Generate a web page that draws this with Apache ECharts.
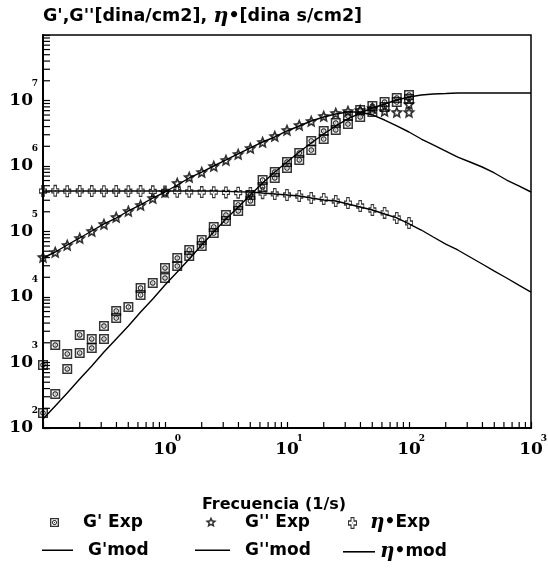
<!DOCTYPE html>
<html><head><meta charset="utf-8">
<script src="https://cdn.jsdelivr.net/npm/echarts@6/dist/echarts.min.js"></script>
<style>html,body{margin:0;padding:0;background:#fff}#c{width:548px;height:574px}</style>
</head><body><div id="c"></div>
<script>
// ---------- data ----------
const freqExp = [0.1, 0.126, 0.158, 0.2, 0.251, 0.316, 0.398, 0.501, 0.631, 0.794, 1, 1.26, 1.58, 2, 2.51, 3.16, 3.98, 5.01, 6.31, 7.94, 10, 12.6, 15.8, 20, 25.1, 31.6, 39.8, 50.1, 63.1, 79.4, 100];
const freqMod = [0.1, 0.126, 0.158, 0.2, 0.251, 0.316, 0.398, 0.501, 0.631, 0.794, 1, 1.26, 1.58, 2, 2.51, 3.16, 3.98, 5.01, 6.31, 7.94, 10, 12.6, 15.8, 20, 25.1, 31.6, 39.8, 50.1, 63.1, 79.4, 100, 126, 158, 200, 251, 316, 398, 501, 631, 794, 1000];
// G' experimental (two runs)
const gpExpA = [169, 330, 796, 1397, 1665, 2285, 4776, 7035, 10740, 16370, 19500, 29720, 42270, 60100, 94840, 144600, 205600, 292400, 477600, 656100, 931100, 1236000, 1754000, 2582000, 3548000, 4375000, 5598000, 6668000, 7962000, 9484000, 10540000];
const gpExpB = [916, 1850, 1349, 2630, 2285, 3606, 6115, null, 13710, null, 27730, 39390, 52240, 74150, 117200, 178600, 254100, 360600, 611100, 809600, 1151000, 1578000, 2410000, 3420000, 4529000, 5797000, 7161000, 8241000, 9484000, 10910000, 12130000];
// G'' experimental
const gppExpA = [40800, 48600, 62200, 79600, 101800, 130300, 166400, 205600, 254100, 324600, 400900, 549500, 679000, 809600, 1000000, 1236000, 1525000, 1884000, 2325000, 2873000, 3548000, 4227000, 4864000, 5799000, 6442000, 6912000, 7161000, 7677000, 6918000, 6668000, 6668000];
const gppExpB = [null, null, null, null, null, null, null, null, null, null, null, null, null, null, null, null, null, null, null, null, null, null, null, null, null, null, null, null, null, null, 8851000];
// eta* experimental
const etaExp = [415000, 418000, 412000, 416000, 414000, 413000, 415000, 412000, 414000, 410000, 408000, 405000, 403000, 400000, 398000, 395000, 392000, 387000, 385000, 374000, 361000, 348000, 325000, 313000, 292000, 272000, 245000, 213000, 192000, 161000, 135000];
// model curves
const gpMod = [137, 217, 342, 560, 885, 1446, 2285, 3606, 5902, 9310, 15240, 24090, 38020, 62230, 98200, 155200, 236600, 360600, 549500, 809600, 1151000, 1636000, 2244000, 3082000, 4083000, 5224000, 6442000, 7677000, 8851000, 10180000, 11300000, 12130000, 12560000, 12790000, 13030000, 13030000, 13030000, 13030000, 13030000, 13030000, 13030000];
const gppMod = [39390, 48640, 62230, 79620, 101800, 130300, 160700, 205600, 254100, 324600, 400900, 512900, 656100, 809600, 1000000, 1236000, 1525000, 1884000, 2325000, 2773000, 3423000, 4083000, 4864000, 5598000, 6223000, 6668000, 6668000, 6013000, 5035000, 4083000, 3304000, 2582000, 2094000, 1694000, 1371000, 1151000, 965500, 782000, 611000, 495400, 400900];
const etaMod = [415000, 415000, 415000, 415000, 415000, 415000, 415000, 415000, 415000, 415000, 415000, 415000, 415000, 415000, 415000, 410000, 405000, 401000, 387000, 374000, 361000, 348000, 325000, 303000, 292000, 263000, 237000, 213000, 185000, 161000, 130300, 105400, 82400, 64400, 52200, 40800, 31900, 24900, 19500, 15200, 11900];
// axes / ticks / labels
const xDecades = [0.1, 1, 10, 100, 1000];
const xBaseLabels = ['', '10', '10', '10', '10'];
const xExpLabels = ['', '0', '1', '2', '3'];
const yDecades = [1e2, 1e3, 1e4, 1e5, 1e6, 1e7, 1e8];
const yBaseLabels = ['10', '10', '10', '10', '10', '10', ''];
const yExpLabels = ['2', '3', '4', '5', '6', '7', ''];
const minorMultipliers = [2, 3, 4, 5, 6, 7, 8, 9];
const seriesNames = ["G' Exp", "G'' Exp", "η•Exp", "G'mod", "G''mod", "η•mod"];
const titleParts = ["G',G''[dina/cm2], ", "η", "•[dina s/cm2]"];
const xAxisName = 'Frecuencia (1/s)';

// ---------- symbol shapes ----------
function toPath(pts) { return 'M' + pts.map(p => p[0].toFixed(2) + ',' + p[1].toFixed(2)).join('L') + 'Z'; }
function holed(outer, inner) { return toPath(outer) + toPath(inner.slice().reverse()); }
function tf(pts, sx, sy, dx, dy) { return pts.map(p => [p[0] * sx + (dx || 0), p[1] * sy + (dy || 0)]); }
function ring(cx, cy, r, n) { const a = []; for (let i = 0; i < n; i++) { const t = i * 2 * Math.PI / n; a.push([cx + r * Math.cos(t), cy + r * Math.sin(t)]); } return a; }
function sqShape(sx, sy) {
  return holed(tf([[0,0],[10,0],[10,10],[0,10]], sx, sy), tf([[1.5,1.5],[8.5,1.5],[8.5,8.5],[1.5,8.5]], sx, sy)) +
    holed(tf(ring(5,5,2.9,10), sx, sy), tf(ring(5,5,1.7,10), sx, sy)) +
    toPath(tf([[4.5,4.5],[5.5,4.5],[5.5,5.5],[4.5,5.5]], sx, sy));
}
function starPts(R, r) { const a = []; for (let i = 0; i < 10; i++) { const t = -Math.PI / 2 + i * Math.PI / 5; const rr = i % 2 ? r : R; a.push([5 + rr * Math.cos(t), 5 + rr * Math.sin(t)]); } return a; }
function starShape(sx, sy) { return holed(tf(starPts(5, 2.3), sx, sy), tf(starPts(1.9, 0.85), sx, sy)); }
const plusOuter = [[2.8,0],[7.2,0],[7.2,2.8],[10,2.8],[10,7.2],[7.2,7.2],[7.2,10],[2.8,10],[2.8,7.2],[0,7.2],[0,2.8],[2.8,2.8]];
const plusInner = [[3.9,1.1],[6.1,1.1],[6.1,3.9],[8.9,3.9],[8.9,6.1],[6.1,6.1],[6.1,8.9],[3.9,8.9],[3.9,6.1],[1.1,6.1],[1.1,3.9],[3.9,3.9]];
function plusShape(sx, sy) { return holed(tf(plusOuter, sx, sy), tf(plusInner, sx, sy)) + toPath(tf([[4.6,4.6],[5.4,4.6],[5.4,5.4],[4.6,5.4]], sx, sy)); }
const symSq = 'path://' + sqShape(1, 1);
const symStar = 'path://' + starShape(1, 1);
const symPlus = 'path://' + plusShape(1, 1);
function phantom(w, h) { return 'M0,0M' + w + ',' + h; }

// ---------- build data ----------
const gpExpData = [], gppExpData = [], etaExpData = [];
freqExp.forEach((f, i) => {
  gpExpData.push([f, gpExpA[i]]); if (gpExpB[i] != null) gpExpData.push([f, gpExpB[i]]);
  gppExpData.push([f, gppExpA[i]]); if (gppExpB[i] != null) gppExpData.push([f, gppExpB[i]]);
  etaExpData.push([f, etaExp[i]]);
});
const xMinor = [], yMinor = [];
xDecades.slice(0, -1).forEach(d => minorMultipliers.forEach(m => xMinor.push([d * m, yDecades[0]])));
yDecades.slice(0, -1).forEach(d => minorMultipliers.forEach(m => yMinor.push([xDecades[0], d * m])));

function decIdx(arr, v) { return Math.round(Math.log10(v) - Math.log10(arr[0])); }

const sans = 'DejaVu Sans', serif = 'DejaVu Serif';
const lineBase = { type: 'line', showSymbol: false, symbol: 'none', silent: true, z: 2,
  lineStyle: { color: '#000', width: 1.4 }, itemStyle: { color: '#000' } };
const scBase = { type: 'scatter', silent: true, z: 3, itemStyle: { color: '#000' } };

function legendAt(name, left, top, w, h, iconPath) {
  return { left: left, top: top, padding: 0, selectedMode: false, itemWidth: w, itemHeight: h,
    data: [{ name: name, icon: 'path://' + iconPath, itemStyle: { color: '#000', borderWidth: 0 } }],
    formatter: n => n.startsWith('η') ? '{e|η}' + n.slice(1) : n,
    textStyle: { fontFamily: sans, fontWeight: 'bold', fontSize: 17, color: '#000',
      rich: { e: { fontFamily: serif, fontStyle: 'italic', fontWeight: 'bold', fontSize: 20, color: '#000' } } } };
}

const chart = echarts.init(document.getElementById('c'), null, { renderer: 'canvas' });
chart.setOption({
  animation: false,
  backgroundColor: '#fff',
  title: {
    left: 43, top: 6, padding: 0,
    text: '{a|' + titleParts[0] + '}{e|' + titleParts[1] + '}{a|' + titleParts[2] + '}',
    textStyle: { rich: {
      a: { fontFamily: sans, fontWeight: 'bold', fontSize: 17.5, color: '#000' },
      e: { fontFamily: serif, fontStyle: 'italic', fontWeight: 'bold', fontSize: 21, color: '#000' } } }
  },
  grid: { left: 43, top: 35, right: 17, bottom: 146, show: true, borderColor: '#000', borderWidth: 1.5,
    containLabel: false, outerBoundsMode: 'none' },
  xAxis: [
    { type: 'log', logBase: 10, min: xDecades[0], max: xDecades[xDecades.length - 1], position: 'bottom',
      axisLine: { lineStyle: { color: '#000', width: 2 } },
      axisTick: { inside: true, length: 6, lineStyle: { color: '#000', width: 1.2 } },
      splitLine: { show: false },
      axisLabel: { margin: 13, fontFamily: serif, fontWeight: 'bold', fontSize: 17, color: '#000',
        formatter: v => xBaseLabels[decIdx(xDecades, v)] || '' },
      name: xAxisName, nameLocation: 'middle', nameGap: 69,
      nameTextStyle: { fontFamily: sans, fontWeight: 'bold', fontSize: 16, color: '#000', padding: [0, 26, 0, 0] } },
    { type: 'log', logBase: 10, min: xDecades[0], max: xDecades[xDecades.length - 1], position: 'bottom',
      axisLine: { show: false }, axisTick: { show: false }, splitLine: { show: false },
      axisLabel: { margin: 6, fontFamily: serif, fontWeight: 'bold', fontSize: 9, color: '#000', padding: [0, 0, 0, 26],
        formatter: v => xExpLabels[decIdx(xDecades, v)] || '' } }
  ],
  yAxis: [
    { type: 'log', logBase: 10, min: yDecades[0], max: yDecades[yDecades.length - 1], position: 'left',
      axisLine: { lineStyle: { color: '#000', width: 2 } },
      axisTick: { inside: true, length: 7, lineStyle: { color: '#000', width: 1.2 } },
      splitLine: { show: false },
      axisLabel: { margin: 10, fontFamily: serif, fontWeight: 'bold', fontSize: 17, color: '#000',
        formatter: v => yBaseLabels[decIdx(yDecades, v)] || '' } },
    { type: 'log', logBase: 10, min: yDecades[0], max: yDecades[yDecades.length - 1], position: 'left',
      axisLine: { show: false }, axisTick: { show: false }, splitLine: { show: false },
      axisLabel: { margin: 5, fontFamily: serif, fontWeight: 'bold', fontSize: 9, color: '#000',
        verticalAlign: 'bottom', lineHeight: 34,
        formatter: v => yExpLabels[decIdx(yDecades, v)] || '' } }
  ],
  legend: [
    legendAt(seriesNames[0], 50, 514, 28, 9, sqShape(0.9, 0.9) + phantom(28, 9)),
    legendAt(seriesNames[1], 205, 514, 35, 12, starShape(1.2, 1.2) + phantom(35, 12)),
    legendAt(seriesNames[2], 348, 513, 17, 12, plusShape(0.9, 1.2) + phantom(17, 12)),
    legendAt(seriesNames[3], 42, 542, 41, 2, 'M0,0H31V1.6H0Z' + phantom(41, 2)),
    legendAt(seriesNames[4], 195, 542, 45, 2, 'M0,0H35V1.6H0Z' + phantom(45, 2)),
    legendAt(seriesNames[5], 343, 542, 32, 2, 'M0,0H32V1.6H0Z' + phantom(32, 2))
  ],
  series: [
    Object.assign({ name: seriesNames[3], data: freqMod.map((f, i) => [f, gpMod[i]]) }, lineBase),
    Object.assign({ name: seriesNames[4], data: freqMod.map((f, i) => [f, gppMod[i]]) }, lineBase),
    Object.assign({ name: seriesNames[5], data: freqMod.map((f, i) => [f, etaMod[i]]) }, lineBase),
    Object.assign({ name: seriesNames[0], data: gpExpData, symbol: symSq, symbolSize: [10, 10] }, scBase),
    Object.assign({ name: seriesNames[1], data: gppExpData, symbol: symStar, symbolSize: [13, 13] }, scBase),
    Object.assign({ name: seriesNames[2], data: etaExpData, symbol: symPlus, symbolSize: [8, 12] }, scBase),
    { type: 'custom', name: 'xMinor', silent: true, z: 4, data: xMinor,
      renderItem: (p, api) => { const pt = api.coord([api.value(0), api.value(1)]);
        return { type: 'line', shape: { x1: pt[0], y1: pt[1], x2: pt[0], y2: pt[1] - 6 }, style: { stroke: '#000', lineWidth: 1.2 } }; } },
    { type: 'custom', name: 'yMinor', silent: true, z: 4, data: yMinor,
      renderItem: (p, api) => { const pt = api.coord([api.value(0), api.value(1)]);
        return { type: 'line', shape: { x1: pt[0], y1: pt[1], x2: pt[0] + 7, y2: pt[1] }, style: { stroke: '#000', lineWidth: 1.2 } }; } }
  ]
});
</script></body></html>
